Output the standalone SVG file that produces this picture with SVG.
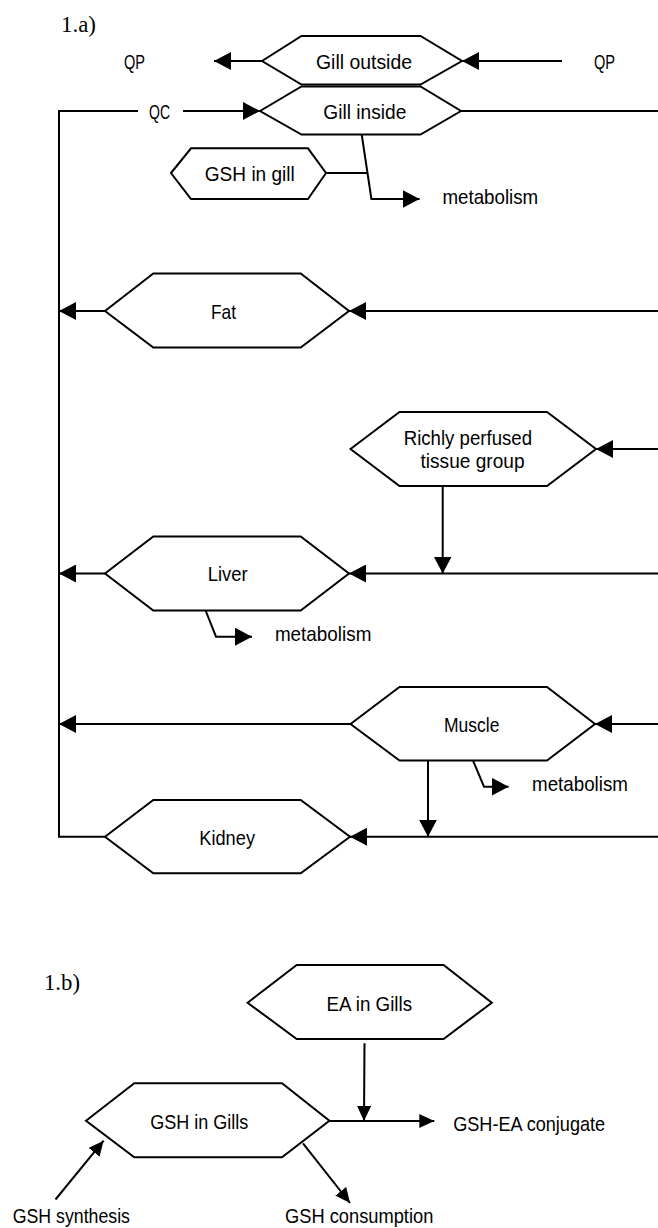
<svg xmlns="http://www.w3.org/2000/svg" width="658" height="1228" viewBox="0 0 658 1228">
<style>
.hex{fill:#fff;stroke:#000;stroke-width:2;stroke-linejoin:miter}
.ln{fill:none;stroke:#000;stroke-width:2}
.t{font-family:"Liberation Sans",Arial,sans-serif;font-size:21px;fill:#000}
.lbl{font-family:"Liberation Serif","Times New Roman",serif;font-size:24px;fill:#000}
</style>
<defs>
<marker id="ah" markerUnits="userSpaceOnUse" markerWidth="18" markerHeight="18" refX="17" refY="9" orient="auto">
<path d="M0,0 L17,9 L0,18 z" fill="#000"/>
</marker>
<marker id="ahs" markerUnits="userSpaceOnUse" markerWidth="16" markerHeight="14" refX="15" refY="7" orient="auto">
<path d="M0,0 L15,7 L0,14 z" fill="#000"/>
</marker>
</defs>
<rect width="658" height="1228" fill="#fff"/>
<text class="lbl" x="61" y="32" textLength="35" lengthAdjust="spacingAndGlyphs">1.a)</text>
<text class="lbl" x="44" y="990" textLength="36" lengthAdjust="spacingAndGlyphs">1.b)</text>

<g id="connectors">
<line class="ln" x1="262" y1="61" x2="214" y2="61" marker-end="url(#ah)"/>
<line class="ln" x1="562" y1="61" x2="462" y2="61" marker-end="url(#ah)"/>
<polyline class="ln" points="138,111 59,111 59,836.7 105,836.7"/>
<line class="ln" x1="183" y1="111" x2="260" y2="111" marker-end="url(#ah)"/>
<line class="ln" x1="461" y1="111" x2="658" y2="111"/>
<line class="ln" x1="326" y1="173" x2="367.5" y2="173"/>
<polyline class="ln" points="361.7,134.5 371.4,199 419.6,199" marker-end="url(#ah)"/>
<line class="ln" x1="105" y1="311" x2="59" y2="311" marker-end="url(#ah)"/>
<line class="ln" x1="658" y1="311" x2="349" y2="311" marker-end="url(#ah)"/>
<line class="ln" x1="658" y1="449" x2="596" y2="449" marker-end="url(#ah)"/>
<line class="ln" x1="442.7" y1="486" x2="442.7" y2="573.5" marker-end="url(#ah)"/>
<line class="ln" x1="105" y1="573.5" x2="59" y2="573.5" marker-end="url(#ah)"/>
<line class="ln" x1="658" y1="573.5" x2="349" y2="573.5" marker-end="url(#ah)"/>
<polyline class="ln" points="205.6,610.5 216,636.7 252,636.7" marker-end="url(#ah)"/>
<line class="ln" x1="350.5" y1="724" x2="59" y2="724" marker-end="url(#ah)"/>
<line class="ln" x1="658" y1="724" x2="595" y2="724" marker-end="url(#ah)"/>
<line class="ln" x1="428" y1="760.5" x2="428" y2="836.7" marker-end="url(#ah)"/>
<polyline class="ln" points="473,760.5 484,786.7 508.6,786.7" marker-end="url(#ah)"/>
<line class="ln" x1="658" y1="836.7" x2="350" y2="836.7" marker-end="url(#ah)"/>
<line class="ln" x1="364.5" y1="1043.3" x2="364" y2="1121" marker-end="url(#ahs)"/>
<line class="ln" x1="329.4" y1="1121" x2="434.3" y2="1121" marker-end="url(#ahs)"/>
<line class="ln" x1="55.5" y1="1199.5" x2="103.6" y2="1140.7" marker-end="url(#ahs)"/>
<line class="ln" x1="303" y1="1143.3" x2="350" y2="1203" marker-end="url(#ahs)"/>
</g>

<g id="labels">
<text class="t" x="124" y="68.5" textLength="21" lengthAdjust="spacingAndGlyphs">QP</text>
<text class="t" x="594" y="68.5" textLength="21" lengthAdjust="spacingAndGlyphs">QP</text>
<text class="t" x="149" y="118.5" textLength="21" lengthAdjust="spacingAndGlyphs">QC</text>
<text class="t" x="442.5" y="203.5" textLength="95.7" lengthAdjust="spacingAndGlyphs">metabolism</text>
<text class="t" x="274.9" y="641" textLength="96.5" lengthAdjust="spacingAndGlyphs">metabolism</text>
<text class="t" x="532" y="791" textLength="96" lengthAdjust="spacingAndGlyphs">metabolism</text>
<text class="t" x="453.2" y="1130.5" textLength="152" lengthAdjust="spacingAndGlyphs">GSH-EA conjugate</text>
<text class="t" x="12.7" y="1223" textLength="117.3" lengthAdjust="spacingAndGlyphs">GSH synthesis</text>
<text class="t" x="285" y="1223" textLength="148.3" lengthAdjust="spacingAndGlyphs">GSH consumption</text>
</g>

<g id="gill-outside">
<polygon class="hex" points="262,61 301.5,36 420.5,36 462,61 420.5,84.5 301.5,84.5"/>
<text class="t" x="316" y="68.5" textLength="96" lengthAdjust="spacingAndGlyphs">Gill outside</text>
</g>
<g id="gill-inside">
<polygon class="hex" points="260,111 301.5,86.5 420.5,86.5 461,111 420.5,134.5 301.5,134.5"/>
<text class="t" x="323.3" y="118.5" textLength="83" lengthAdjust="spacingAndGlyphs">Gill inside</text>
</g>
<g id="gsh-in-gill">
<polygon class="hex" points="171,173 191,148.3 308,148.3 326,173 308,199 191,199"/>
<text class="t" x="204.8" y="181" textLength="90" lengthAdjust="spacingAndGlyphs">GSH in gill</text>
</g>
<g id="fat">
<polygon class="hex" points="105,311 153.3,273.5 300.7,273.5 349,311 300.7,347.5 153.3,347.5"/>
<text class="t" x="211" y="319" textLength="25" lengthAdjust="spacingAndGlyphs">Fat</text>
</g>
<g id="richly-perfused">
<polygon class="hex" points="350.5,449 399.5,412 547,412 596,449 547,486 399.5,486"/>
<text class="t" x="403.7" y="445" textLength="128.4" lengthAdjust="spacingAndGlyphs">Richly perfused</text>
<text class="t" x="420.5" y="468" textLength="104" lengthAdjust="spacingAndGlyphs">tissue group</text>
</g>
<g id="liver">
<polygon class="hex" points="105,573.5 153.3,536.5 300.7,536.5 349,573.5 300.7,610.5 153.3,610.5"/>
<text class="t" x="207.7" y="581" textLength="40" lengthAdjust="spacingAndGlyphs">Liver</text>
</g>
<g id="muscle">
<polygon class="hex" points="350.5,724 399.5,687 547,687 595,724 547,760.5 399.5,760.5"/>
<text class="t" x="444" y="732" textLength="55.4" lengthAdjust="spacingAndGlyphs">Muscle</text>
</g>
<g id="kidney">
<polygon class="hex" points="105,836.7 153.3,800 300.7,800 350,836.7 300.7,873.3 153.3,873.3"/>
<text class="t" x="199.3" y="845" textLength="55.7" lengthAdjust="spacingAndGlyphs">Kidney</text>
</g>
<g id="ea-in-gills">
<polygon class="hex" points="247.6,1002.7 296.7,965 443.6,965 491.8,1002.7 443.6,1039 296.7,1039"/>
<text class="t" x="326.5" y="1011" textLength="85.6" lengthAdjust="spacingAndGlyphs">EA in Gills</text>
</g>
<g id="gsh-in-gills">
<polygon class="hex" points="86,1120.7 134.3,1083.3 282,1083.3 329.4,1120.7 282,1157.3 134.3,1157.3"/>
<text class="t" x="150.2" y="1128.5" textLength="98.2" lengthAdjust="spacingAndGlyphs">GSH in Gills</text>
</g>
</svg>
